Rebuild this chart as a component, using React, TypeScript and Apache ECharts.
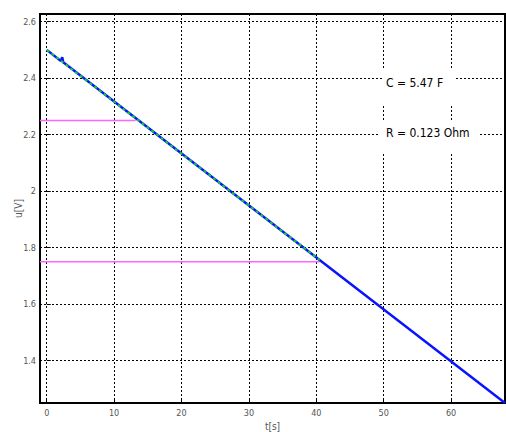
import React, { useEffect, useRef } from "react";
import * as echarts from "echarts";

const xTicks = [0, 10, 20, 30, 40, 50, 60];
const yTicks = [1.4, 1.6, 1.8, 2.0, 2.2, 2.4, 2.6];
const fitLine: [number, number][] = [[0, 2.5], [2.1, 2.461], [2.3, 2.474], [2.45, 2.456], [68, 1.25]];
const measured: [number, number][] = [[0, 2.5], [40.5, 1.756]];
const pinkHigh: [number, number][] = [[-1, 2.25], [13.2, 2.25]];
const pinkLow: [number, number][] = [[-1, 1.75], [40.5, 1.75]];
const annotations = ["C = 5.47 F", "R = 0.123 Ohm"];

const FONT = "'Liberation Sans Narrow', 'DejaVu Sans Condensed', sans-serif";

export default function App() {
  const ref = useRef<HTMLDivElement>(null);
  useEffect(() => {
    if (!ref.current) return;
    const chart = echarts.init(ref.current, undefined, { renderer: "svg" });
    const grid = { color: "#000", type: [2, 2] as any, width: 1 };
    chart.setOption({
      animation: false,
      backgroundColor: "#fff",
      grid: {
        left: 40,
        top: 14,
        right: 1,
        bottom: 29,
        show: true,
        borderColor: "#000",
        borderWidth: 2,
        containLabel: false,
        outerBoundsMode: "none",
      },
      xAxis: {
        type: "value",
        min: -1,
        max: 68,
        name: "t[s]",
        nameLocation: "middle",
        nameGap: 18,
        nameMoveOverlap: false,
        nameTextStyle: { fontFamily: FONT, fontSize: 10, color: "#555" },
        axisLine: { show: false },
        axisTick: { show: true, inside: true, length: 4, customValues: xTicks, lineStyle: { color: "#000" } },
        axisLabel: { customValues: xTicks, fontFamily: FONT, fontSize: 9, color: "#555", margin: 5 },
        splitLine: { show: true, customValues: xTicks, lineStyle: grid },
      },
      yAxis: {
        type: "value",
        min: 1.25,
        max: 2.627,
        name: "u[V]",
        nameLocation: "middle",
        nameGap: 17,
        nameMoveOverlap: false,
        nameTextStyle: { fontFamily: FONT, fontSize: 10, color: "#555" },
        axisLine: { show: false },
        axisTick: { show: true, inside: true, length: 4, customValues: yTicks, lineStyle: { color: "#000" } },
        axisLabel: {
          customValues: yTicks,
          fontFamily: FONT,
          fontSize: 9,
          color: "#555",
          margin: 4,
          formatter: (v: number) => String(Math.round(v * 10) / 10),
        },
        splitLine: { show: true, customValues: yTicks, lineStyle: grid },
      },
      series: [
        {
          type: "line",
          data: pinkHigh,
          showSymbol: false,
          lineStyle: { color: "#ff66ff", width: 1.5 },
          z: 3,
        },
        {
          type: "line",
          data: pinkLow,
          showSymbol: false,
          lineStyle: { color: "#ff66ff", width: 1.5 },
          z: 3,
        },
        {
          type: "line",
          data: fitLine,
          showSymbol: false,
          lineStyle: { color: "#0a14ff", width: 2.5 },
          z: 4,
        },
        {
          type: "line",
          data: measured,
          showSymbol: false,
          lineStyle: { color: "#11cc33", width: 2, type: [3, 3] },
          z: 5,
        },
      ],
      graphic: [
        { type: "rect", shape: { x: 382, y: 68, width: 74, height: 37 }, style: { fill: "#fff" }, z: 9 },
        { type: "rect", shape: { x: 380, y: 120, width: 100, height: 32 }, style: { fill: "#fff" }, z: 9 },
        {
          type: "text",
          x: 386,
          y: 83,
          style: {
            text: annotations[0],
            font: `12px ${FONT}`,
            fill: "#000",
            verticalAlign: "middle",
          },
          z: 10,
        },
        {
          type: "text",
          x: 386,
          y: 133,
          style: {
            text: annotations[1],
            font: `12px ${FONT}`,
            fill: "#000",
            verticalAlign: "middle",
          },
          z: 10,
        },
      ],
    });
    return () => chart.dispose();
  }, []);
  return <div ref={ref} style={{ width: 506, height: 432, position: "absolute", left: 0, top: 0 }} />;
}
